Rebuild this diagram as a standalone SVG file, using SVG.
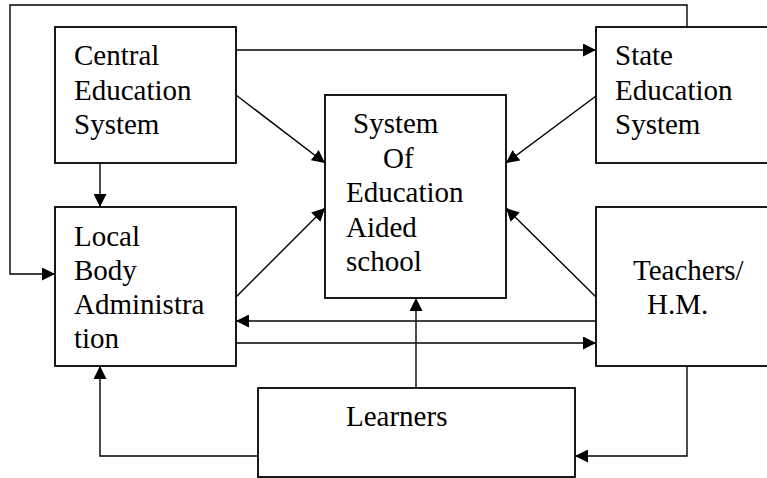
<svg xmlns="http://www.w3.org/2000/svg" width="767" height="478" viewBox="0 0 767 478">
<style>
.box{fill:#fff;stroke:#000;stroke-width:1.8}
.c{fill:none;stroke:#000;stroke-width:1.4}
text{font-family:"Liberation Serif","Times New Roman",serif;font-size:29px;fill:#000}
</style>
<defs>
<marker id="ah" markerUnits="userSpaceOnUse" markerWidth="14" markerHeight="13" refX="13" refY="6.5" orient="auto">
<path d="M0,0 L13,6.5 L0,13 z" fill="#000"/>
</marker>
</defs>
<rect width="767" height="478" fill="#fff"/>
<g id="connectors">
<polyline class="c" points="687,27 687,5 10,5 10,274 55,274" marker-end="url(#ah)"/>
<line class="c" x1="236" y1="50" x2="596" y2="50" marker-end="url(#ah)"/>
<line class="c" x1="236" y1="95" x2="325" y2="163" marker-end="url(#ah)"/>
<line class="c" x1="596" y1="96" x2="506" y2="163" marker-end="url(#ah)"/>
<line class="c" x1="100" y1="163" x2="100" y2="207" marker-end="url(#ah)"/>
<line class="c" x1="236" y1="297" x2="325" y2="208" marker-end="url(#ah)"/>
<line class="c" x1="596" y1="297" x2="506" y2="208" marker-end="url(#ah)"/>
<line class="c" x1="596" y1="321" x2="236" y2="321" marker-end="url(#ah)"/>
<line class="c" x1="236" y1="343" x2="596" y2="343" marker-end="url(#ah)"/>
<line class="c" x1="416" y1="388" x2="416" y2="298" marker-end="url(#ah)"/>
<polyline class="c" points="258,456 100,456 100,366" marker-end="url(#ah)"/>
<polyline class="c" points="687,366 687,456 575,456" marker-end="url(#ah)"/>
</g>
<g id="central">
<rect class="box" x="55" y="27" width="181" height="136"/>
<text x="74" y="65">Central</text>
<text x="74" y="100">Education</text>
<text x="74" y="134">System</text>
</g>
<g id="state">
<rect class="box" x="596" y="27" width="180" height="136"/>
<text x="615" y="65">State</text>
<text x="615" y="100">Education</text>
<text x="615" y="134">System</text>
</g>
<g id="system">
<rect class="box" x="325" y="95" width="181" height="203"/>
<text x="353" y="133">System</text>
<text x="383" y="168">Of</text>
<text x="346" y="202">Education</text>
<text x="346" y="237">Aided</text>
<text x="346" y="271">school</text>
</g>
<g id="local">
<rect class="box" x="55" y="207" width="181" height="159"/>
<text x="74" y="246">Local</text>
<text x="74" y="280">Body</text>
<text x="74" y="314">Administra</text>
<text x="74" y="348">tion</text>
</g>
<g id="teachers">
<rect class="box" x="596" y="207" width="180" height="159"/>
<text x="633" y="280">Teachers/</text>
<text x="647" y="314">H.M.</text>
</g>
<g id="learners">
<rect class="box" x="258" y="388" width="317" height="89"/>
<text x="346" y="426">Learners</text>
</g>
</svg>
